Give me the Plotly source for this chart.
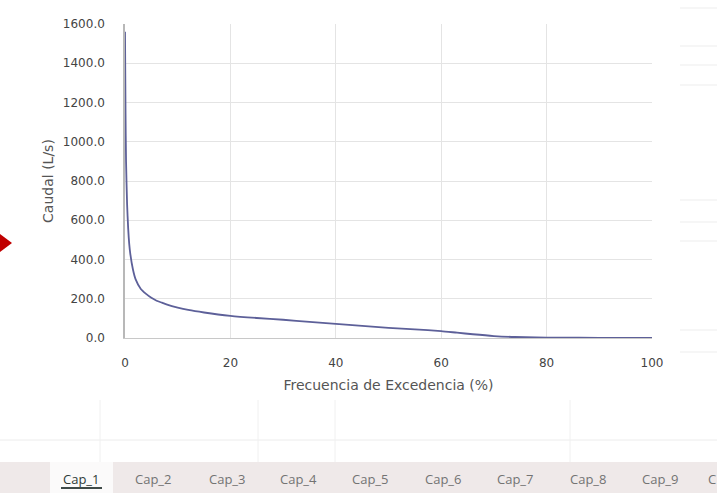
import plotly.graph_objects as go

# curva de duracion de caudales - Cap_1
frecuencia = [0, 0.1, 0.2, 0.4, 0.6, 0.8, 1, 1.5, 2, 3, 4, 5, 6, 7, 8, 10, 12, 15,
              20, 25, 30, 35, 40, 45, 50, 55, 60, 63, 66, 70, 74, 78, 82, 90, 100]
caudal = [1560, 1150, 900, 680, 560, 480, 430, 350, 300, 250, 225, 205, 190, 180, 170,
          155, 143, 130, 113, 102, 93, 82, 72, 62, 52, 44, 35, 27, 19, 10, 5, 3, 2, 1, 0]

x_ticks = [0, 20, 40, 60, 80, 100]
y_ticks = [0, 200, 400, 600, 800, 1000, 1200, 1400, 1600]
tabs = ["Cap_1", "Cap_2", "Cap_3", "Cap_4", "Cap_5", "Cap_6", "Cap_7", "Cap_8", "Cap_9", "C"]
tab_px = [81, 153, 227, 298, 370, 443, 515, 588, 660, 712]

W, H = 717, 493
L, R, T, B = 125, 652, 24, 338


def px(x):
    return (x - L) / (R - L)


def py(y):
    return (B - y) / (B - T)


fig = go.Figure()
fig.add_trace(go.Scatter(
    x=frecuencia, y=caudal, mode="lines",
    line=dict(color="#5d6099", width=1.8, shape="spline", smoothing=0.6),
    hoverinfo="x+y",
))

shapes = []
# hoja de calculo de fondo
for yy in [440]:
    shapes.append(dict(type="line", xref="paper", yref="paper", x0=px(0), x1=px(W),
                       y0=py(yy), y1=py(yy), line=dict(color="#ececec", width=1), layer="below"))
for xx in [100, 258, 335, 570]:
    shapes.append(dict(type="line", xref="paper", yref="paper", x0=px(xx), x1=px(xx),
                       y0=py(400), y1=py(462), line=dict(color="#f0f0f0", width=1), layer="below"))
for yy in [8, 46, 65, 85, 200, 222, 241, 330, 352]:
    shapes.append(dict(type="line", xref="paper", yref="paper", x0=px(680), x1=px(W),
                       y0=py(yy), y1=py(yy), line=dict(color="#ededed", width=1), layer="below"))
# barra de pestañas
shapes.append(dict(type="rect", xref="paper", yref="paper", x0=px(0), x1=px(W),
                   y0=py(462), y1=py(H), fillcolor="#efe9e9", line=dict(width=0), layer="below"))
shapes.append(dict(type="rect", xref="paper", yref="paper", x0=px(50), x1=px(113),
                   y0=py(462), y1=py(H), fillcolor="#fbfafa", line=dict(width=0), layer="below"))
shapes.append(dict(type="line", xref="paper", yref="paper", x0=px(61), x1=px(102),
                   y0=py(488), y1=py(488), line=dict(color="#3f4a48", width=2)))
# flecha roja
shapes.append(dict(type="path", xref="paper", yref="paper",
                   path=f"M {px(0)} {py(234)} L {px(12)} {py(243)} L {px(0)} {py(252)} Z",
                   fillcolor="#c00000", line=dict(width=0)))

annotations = []
for name, xp in zip(tabs, tab_px):
    annotations.append(dict(
        text=name, xref="paper", yref="paper", x=px(xp), y=py(479),
        showarrow=False, xanchor="center", yanchor="middle",
        font=dict(family="Open Sans", size=13, color="#2f3a38" if name == "Cap_1" else "#737373"),
    ))

fig.update_layout(
    width=W, height=H,
    margin=dict(l=L, r=W - R, t=T, b=H - B, autoexpand=False),
    paper_bgcolor="white", plot_bgcolor="white",
    showlegend=False,
    font=dict(family="DejaVu Sans", size=12, color="#444444"),
    xaxis=dict(
        range=[0, 100], tickvals=x_ticks, showgrid=True, gridcolor="#e4e4e4",
        zeroline=False, showline=True, linecolor="#c8c8c8", linewidth=1,
        ticks="", ticklabelstandoff=14,
        title=dict(text="Frecuencia de Excedencia (%)", font=dict(size=14, color="#555555"), standoff=10),
    ),
    yaxis=dict(
        range=[0, 1600], tickvals=y_ticks, tickformat=".1f", showgrid=True, gridcolor="#e4e4e4",
        zeroline=False, showline=True, linecolor="#b8b8b8", linewidth=1.5,
        ticks="", ticklabelstandoff=16,
        title=dict(text="Caudal (L/s)", font=dict(size=14, color="#555555"), standoff=6),
    ),
    shapes=shapes,
    annotations=annotations,
)

config = dict(displayModeBar=False, displaylogo=False)
# sin margen del body para que la figura ocupe la ventana completa
fig.write_html("out.html", config=config, post_script="document.body.style.margin='0';")
